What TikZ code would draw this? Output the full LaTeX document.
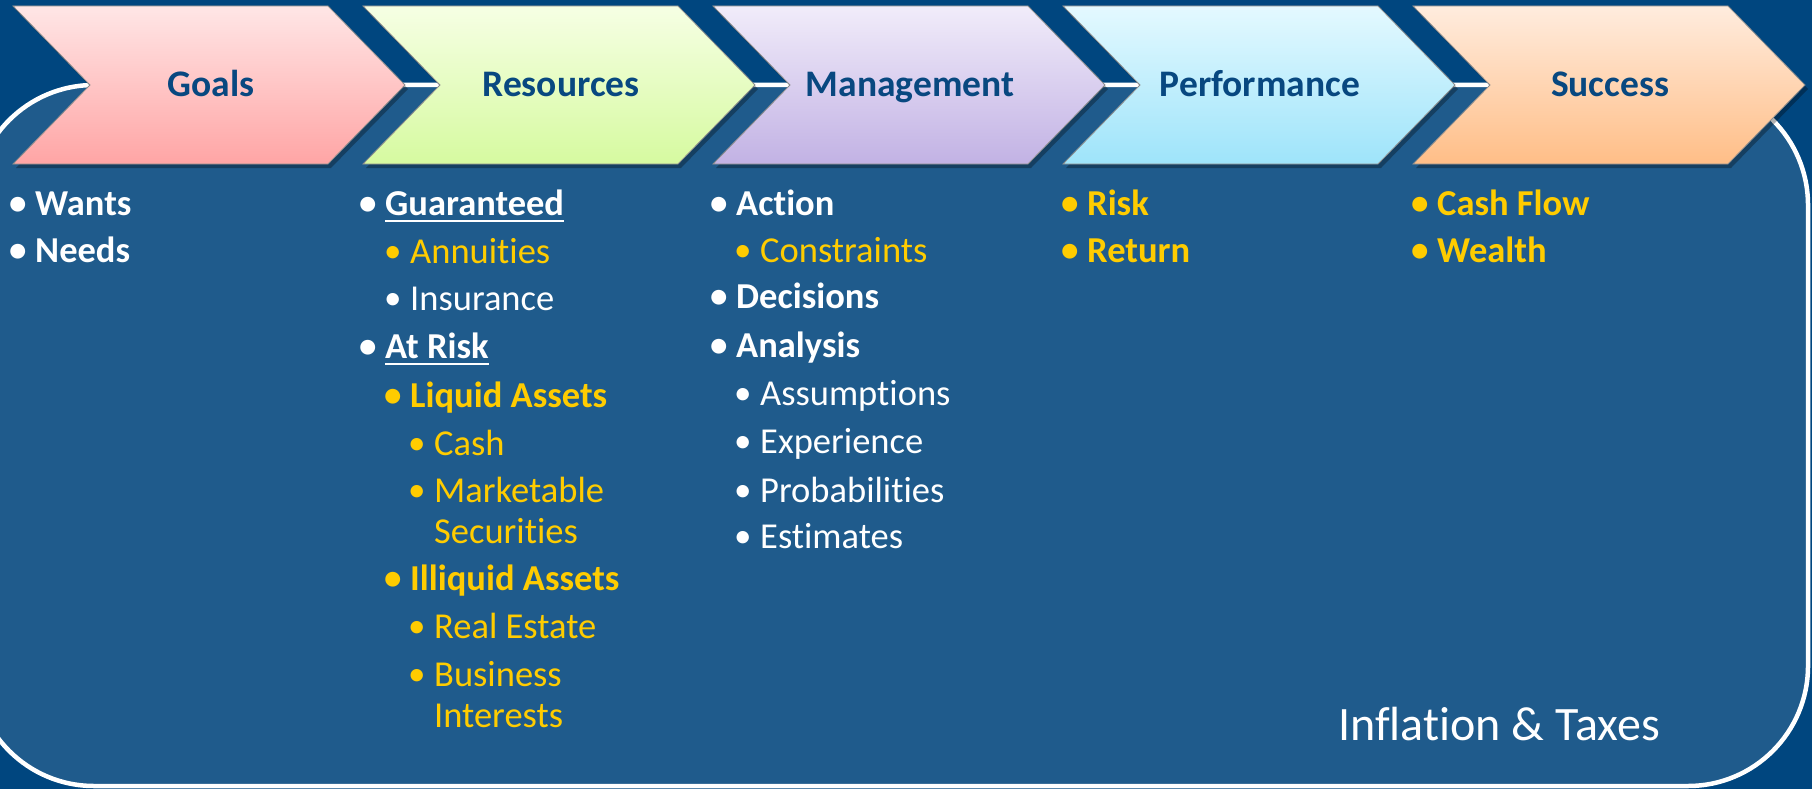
\documentclass[tikz,border=0pt]{standalone}
\usepackage{fontspec}
\setmainfont{Carlito}[Ligatures={NoCommon,NoContextual}]
\usepackage{tikz}
\usetikzlibrary{calc}

\definecolor{deepblue}{RGB}{0,70,127}
\definecolor{panelblue}{RGB}{31,91,140}
\definecolor{gold}{RGB}{255,204,0}
\definecolor{titleblue}{RGB}{8,72,128}
\definecolor{goalstop}{RGB}{255,230,230}
\definecolor{goalsbot}{RGB}{255,165,165}
\definecolor{restop}{RGB}{246,255,228}
\definecolor{resbot}{RGB}{214,250,160}
\definecolor{mgmttop}{RGB}{241,236,250}
\definecolor{mgmtbot}{RGB}{194,178,228}
\definecolor{perftop}{RGB}{228,249,255}
\definecolor{perfbot}{RGB}{158,228,250}
\definecolor{succtop}{RGB}{255,236,222}
\definecolor{succbot}{RGB}{255,190,135}

% bullet in a fixed box, pulled left so the text keeps its gap
\newcommand{\bulletbox}{\makebox[22pt][l]{\hspace{-4pt}\raisebox{0.5pt}{\fontsize{35}{35}\selectfont\textbullet}}}

\begin{document}
\begin{tikzpicture}[x=1pt, y=-1pt,
					stage/.style={draw=black!45, line width=0.8pt,
						preaction={fill=black, opacity=0.3, transform canvas={shift={(3pt,-4pt)}}}},
					stagelabel/.style={anchor=base, inner sep=0pt, text=titleblue, font=\fontsize{37.5}{44}\selectfont\bfseries},
					plainitem/.style={anchor=base west, inner sep=0pt, align=left, font=\fontsize{36.5}{41}\selectfont},
					strongitem/.style={plainitem, font=\fontsize{36.5}{41}\selectfont\bfseries},
					]
					\useasboundingbox (0,0) rectangle (1812,789);
					\fill[deepblue] (0,0) rectangle (1812,789);

					%Panel
					\draw[white, line width=4.5pt, fill=panelblue, rounded corners=120pt] (-26,85) rectangle (1808,786);

					%Stages
					\shade[stage, top color=goalstop, bottom color=goalsbot]
						(13,6) -- (328,6) -- (405,85) -- (328,164) -- (13,164) -- (90,85) -- cycle;
					\shade[stage, top color=restop, bottom color=resbot]
						(363,6) -- (678,6) -- (755,85) -- (678,164) -- (363,164) -- (440,85) -- cycle;
					\shade[stage, top color=mgmttop, bottom color=mgmtbot]
						(713,6) -- (1028,6) -- (1105,85) -- (1028,164) -- (713,164) -- (790,85) -- cycle;
					\shade[stage, top color=perftop, bottom color=perfbot]
						(1063,6) -- (1378,6) -- (1455,85) -- (1378,164) -- (1063,164) -- (1140,85) -- cycle;
					\shade[stage, top color=succtop, bottom color=succbot]
						(1413,6) -- (1728,6) -- (1805,85) -- (1728,164) -- (1413,164) -- (1490,85) -- cycle;

					\node[stagelabel] (goals)   at (211,97)  {Goals};
					\node[stagelabel] (res)     at (561,97)  {Resources};
					\node[stagelabel] (mgmt)    at (910,97)  {Management};
					\node[stagelabel] (perf)    at (1260,97) {Performance};
					\node[stagelabel] (success) at (1610,97) {Success};

					%Goals
					\node[strongitem, text=white] (wants) at (13,215) {\bulletbox Wants};
					\node[strongitem, text=white] (needs) at (13,262) {\bulletbox Needs};

					%Resources (two-line entries sit on the baseline of their last line)
					\node[strongitem, text=white] (guar)     at (363,215) {\bulletbox Guaranteed};
					\node[plainitem, text=gold]   (annu)     at (388,263) {\bulletbox Annuities};
					\node[plainitem, text=white]  (insur)    at (388,310) {\bulletbox Insurance};
					\node[strongitem, text=white] (atrisk)   at (363,358) {\bulletbox At Risk};
					\node[strongitem, text=gold]  (liquid)   at (388,407) {\bulletbox Liquid Assets};
					\node[plainitem, text=gold]   (cash)     at (412,455) {\bulletbox Cash};
					\node[plainitem, text=gold]   (market)   at (412,543) {\bulletbox Marketable\\\hspace*{22pt}Securities};
					\node[strongitem, text=gold]  (illiquid) at (388,590) {\bulletbox Illiquid Assets};
					\node[plainitem, text=gold]   (estate)   at (412,638) {\bulletbox Real Estate};
					\node[plainitem, text=gold]   (business) at (412,727) {\bulletbox Business\\\hspace*{22pt}Interests};

					\draw[white, line width=2.5pt] ($(guar.base west)+(22,6)$) -- ($(guar.base east)+(0,6)$);
					\draw[white, line width=2.5pt] ($(atrisk.base west)+(22,6)$) -- ($(atrisk.base east)+(0,6)$);

					%Management
					\node[strongitem, text=white] (action)  at (714,215) {\bulletbox Action};
					\node[plainitem, text=gold]   (constr)  at (738,262) {\bulletbox Constraints};
					\node[strongitem, text=white] (decis)   at (714,308) {\bulletbox Decisions};
					\node[strongitem, text=white] (analys)  at (714,357) {\bulletbox Analysis};
					\node[plainitem, text=white]  (assump)  at (738,405) {\bulletbox Assumptions};
					\node[plainitem, text=white]  (exper)   at (738,453) {\bulletbox Experience};
					\node[plainitem, text=white]  (prob)    at (738,502) {\bulletbox Probabilities};
					\node[plainitem, text=white]  (estim)   at (738,548) {\bulletbox Estimates};

					%Performance
					\node[strongitem, text=gold] (risk)   at (1065,215) {\bulletbox Risk};
					\node[strongitem, text=gold] (return) at (1065,262) {\bulletbox Return};

					%Success
					\node[strongitem, text=gold] (cflow)  at (1415,215) {\bulletbox Cash Flow};
					\node[strongitem, text=gold] (wealth) at (1415,262) {\bulletbox Wealth};

					\node[anchor=base west, inner sep=0pt, text=white, font=\fontsize{48}{56}\selectfont] (taxes) at (1338,740) {Inflation \& Taxes};
				\end{tikzpicture}
\end{document}
